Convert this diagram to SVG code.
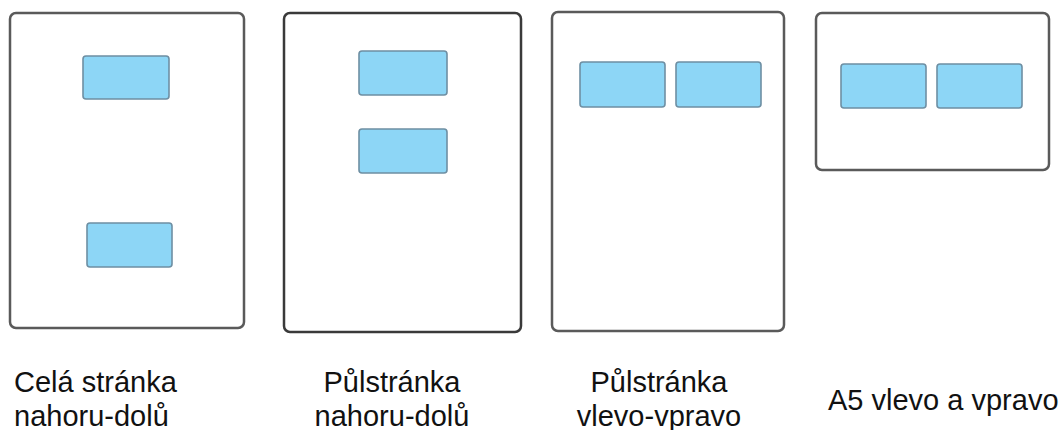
<svg xmlns="http://www.w3.org/2000/svg" width="1061" height="430" viewBox="0 0 1061 430">
  <style>
    .page { fill: #ffffff; stroke: #5a5a5a; stroke-width: 2.5; }
    .page.dark { stroke: #3a3a3a; }
    .slot { fill: #8dd6f6; stroke: #6e8fa3; stroke-width: 1.6; }
    .lbl { font-family: "Liberation Sans", Arial, sans-serif; font-size: 29px; fill: #111111; }
  </style>
  <rect width="1061" height="430" fill="#ffffff"/>

  <g id="panel-cela-stranka">
    <rect class="page" x="10" y="13" width="234" height="315" rx="6"/>
    <rect class="slot" x="83" y="56" width="86" height="43" rx="3"/>
    <rect class="slot" x="87" y="223" width="85" height="44" rx="3"/>
    <text class="lbl" x="14" y="392">Celá stránka</text>
    <text class="lbl" x="14" y="426">nahoru-dolů</text>
  </g>

  <g id="panel-pulstranka-nahoru-dolu">
    <rect class="page dark" x="284" y="13" width="237" height="319" rx="6"/>
    <rect class="slot" x="359" y="51" width="88" height="44" rx="3"/>
    <rect class="slot" x="359" y="129" width="88" height="44" rx="3"/>
    <text class="lbl" x="392" y="392" text-anchor="middle">Půlstránka</text>
    <text class="lbl" x="392" y="426" text-anchor="middle">nahoru-dolů</text>
  </g>

  <g id="panel-pulstranka-vlevo-vpravo">
    <rect class="page" x="552" y="12" width="232" height="319" rx="6"/>
    <rect class="slot" x="580" y="62" width="85" height="45" rx="3"/>
    <rect class="slot" x="676" y="62" width="85" height="45" rx="3"/>
    <text class="lbl" x="659" y="392" text-anchor="middle">Půlstránka</text>
    <text class="lbl" x="659" y="426" text-anchor="middle">vlevo-vpravo</text>
  </g>

  <g id="panel-a5">
    <rect class="page" x="816" y="13" width="233" height="157" rx="6"/>
    <rect class="slot" x="841" y="64" width="85" height="44" rx="3"/>
    <rect class="slot" x="937" y="64" width="85" height="44" rx="3"/>
    <text class="lbl" x="828" y="410">A5 vlevo a vpravo</text>
  </g>

  <g id="connectors"></g>
</svg>
